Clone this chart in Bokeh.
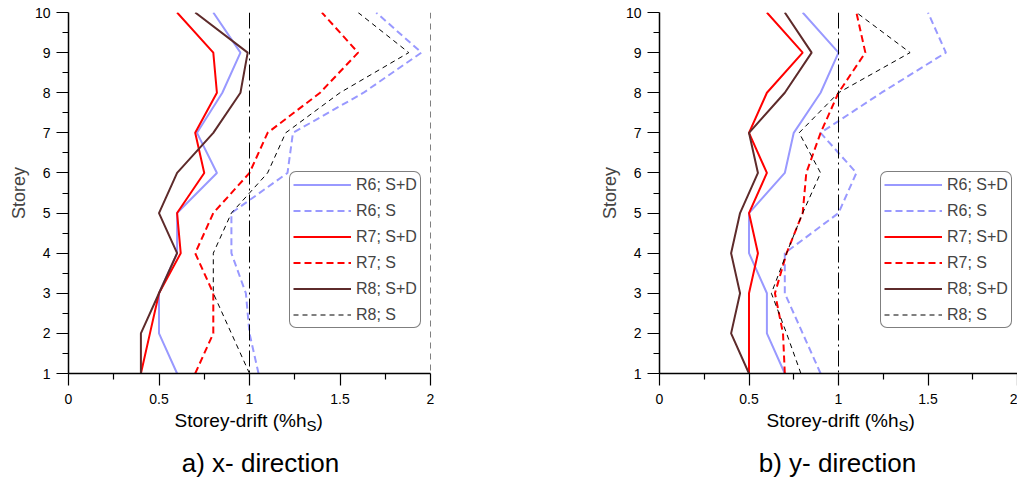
from bokeh.plotting import figure
from bokeh.models import Range1d, Span, Legend, LegendItem, Label, FixedTicker
from bokeh.layouts import row, column
from bokeh.embed import file_html
from bokeh.resources import INLINE

storeys = [1, 2, 3, 4, 5, 6, 7, 8, 9, 10]
series_names = ["R6; S+D", "R6; S", "R7; S+D", "R7; S", "R8; S+D", "R8; S"]

# a) x- direction
x_R6_SD = [0.60, 0.50, 0.50, 0.60, 0.60, 0.82, 0.71, 0.85, 0.95, 0.80]
x_R6_S = [1.05, 1.00, 0.98, 0.90, 0.90, 1.21, 1.24, 1.63, 1.95, 1.70]
x_R7_SD = [0.40, 0.45, 0.50, 0.62, 0.60, 0.75, 0.70, 0.82, 0.80, 0.60]
x_R7_S = [0.70, 0.80, 0.80, 0.70, 0.80, 1.00, 1.10, 1.39, 1.60, 1.40]
x_R8_SD = [0.40, 0.40, 0.50, 0.60, 0.50, 0.60, 0.80, 0.95, 0.99, 0.70]
x_R8_S = [1.00, 0.90, 0.80, 0.80, 0.90, 1.10, 1.20, 1.50, 1.88, 1.60]

# b) y- direction
y_R6_SD = [0.70, 0.60, 0.60, 0.50, 0.50, 0.70, 0.75, 0.90, 1.00, 0.80]
y_R6_S = [0.90, 0.80, 0.70, 0.70, 1.00, 1.10, 0.90, 1.24, 1.60, 1.50]
y_R7_SD = [0.50, 0.50, 0.50, 0.55, 0.50, 0.60, 0.50, 0.60, 0.80, 0.60]
y_R7_S = [0.70, 0.69, 0.645, 0.71, 0.80, 0.82, 0.90, 1.00, 1.15, 1.10]
y_R8_SD = [0.50, 0.40, 0.45, 0.40, 0.45, 0.55, 0.50, 0.70, 0.85, 0.70]
y_R8_S = [0.79, 0.71, 0.625, 0.71, 0.80, 0.90, 0.78, 1.00, 1.40, 1.10]

x_tick_values = [0, 0.5, 1, 1.5, 2]
x_tick_labels = ["0", "0.5", "1", "1.5", "2"]
x_minor_values = [0.25, 0.75, 1.25, 1.75]
y_tick_values = [1, 2, 3, 4, 5, 6, 7, 8, 9, 10]
y_minor_values = [1.5, 2.5, 3.5, 4.5, 5.5, 6.5, 7.5, 8.5, 9.5]

x_label_main = "Storey-drift (%h"
x_label_sub = "S"
x_label_end = ")"
captions = ["a) x- direction", "b) y- direction"]

FONT = "Liberation Sans"
styles = [
    dict(line_color="#9999FF", line_width=2),
    dict(line_color="#9999FF", line_width=2, line_dash="7 4"),
    dict(line_color="#FF0000", line_width=2),
    dict(line_color="#FF0000", line_width=2, line_dash="7 4"),
    dict(line_color="#5E2B2B", line_width=2),
    dict(line_color="#000000", line_width=1, line_dash="5 4"),
]

CAP_H = 67


def make_panel(series, b_left, f_width, b_right, x2_line):
    p = figure(frame_width=f_width, frame_height=361,
               min_border_left=b_left, min_border_right=b_right,
               min_border_top=12, min_border_bottom=37,
               x_range=Range1d(0, 2), y_range=Range1d(1, 10),
               output_backend="svg", toolbar_location=None,
               background_fill_color="white", border_fill_color="white")
    p.outline_line_color = None
    p.grid.visible = False

    p.add_layout(Span(location=1, dimension="height", line_color="black",
                      line_width=1, line_dash="16 4 2 4"))
    if x2_line:
        p.add_layout(Span(location=2, dimension="height", line_color="black",
                          line_width=1, line_dash="6 5"))

    items = []
    for name, vals, st in zip(series_names, series, styles):
        r = p.line(vals, storeys, **st)
        items.append(LegendItem(label=name, renderers=[r]))

    legend = Legend(items=items, location=(221, 45), margin=0, padding=3,
                    spacing=7, label_height=19, glyph_height=19, glyph_width=58,
                    label_standoff=5, label_text_font=FONT,
                    label_text_font_size="16px", border_line_color="black",
                    border_line_width=1, background_fill_color="white",
                    background_fill_alpha=1)
    if "border_radius" in Legend.properties():
        legend.border_radius = 7
    p.add_layout(legend)

    for ax in (p.xaxis[0], p.yaxis[0]):
        ax.axis_line_width = 1.5
        ax.axis_line_color = "black"
        ax.major_tick_line_color = "black"
        ax.minor_tick_line_color = "black"
        ax.major_tick_line_width = 1.2
        ax.minor_tick_line_width = 1.2
        ax.major_tick_in = 0
        ax.major_tick_out = 12
        ax.minor_tick_in = 0
        ax.minor_tick_out = 6
        ax.major_label_text_font = FONT
        ax.major_label_text_font_size = "14px"
        ax.major_label_text_color = "black"

    p.xaxis[0].ticker = FixedTicker(ticks=x_tick_values, minor_ticks=x_minor_values)
    p.xaxis[0].major_label_overrides = dict(zip(x_tick_values, x_tick_labels))
    p.xaxis[0].major_label_standoff = 8

    p.yaxis[0].ticker = FixedTicker(ticks=y_tick_values, minor_ticks=y_minor_values)
    p.yaxis[0].major_label_standoff = 6
    p.yaxis[0].axis_label = "Storey"
    p.yaxis[0].axis_label_text_font = FONT
    p.yaxis[0].axis_label_text_font_size = "18px"
    p.yaxis[0].axis_label_text_font_style = "normal"
    p.yaxis[0].axis_label_standoff = 3
    return p


def make_caption(total_w, caption, anchor_x, cap_x):
    c = figure(width=total_w, height=CAP_H, x_range=Range1d(0, total_w),
               y_range=Range1d(0, CAP_H), min_border=0,
               x_axis_location=None, y_axis_location=None,
               output_backend="svg", toolbar_location=None,
               background_fill_color="white", border_fill_color="white")
    c.outline_line_color = None
    c.grid.visible = False
    c.add_layout(Label(x=anchor_x, y=57, x_units="screen", y_units="screen",
                       text=x_label_main, text_align="right",
                       text_baseline="alphabetic", text_font=FONT,
                       text_font_size="19px", text_color="black"))
    c.add_layout(Label(x=anchor_x, y=52, x_units="screen", y_units="screen",
                       text=x_label_sub, text_align="left",
                       text_baseline="alphabetic", text_font=FONT,
                       text_font_size="15px", text_color="black"))
    c.add_layout(Label(x=anchor_x + 10, y=57, x_units="screen", y_units="screen",
                       text=x_label_end, text_align="left",
                       text_baseline="alphabetic", text_font=FONT,
                       text_font_size="19px", text_color="black"))
    c.add_layout(Label(x=cap_x, y=15, x_units="screen", y_units="screen",
                       text=caption, text_align="center",
                       text_baseline="alphabetic", text_font=FONT,
                       text_font_size="26px", text_color="black"))
    return c


p1 = make_panel([x_R6_SD, x_R6_S, x_R7_SD, x_R7_S, x_R8_SD, x_R8_S],
                68, 362, 160, True)
p2 = make_panel([y_R6_SD, y_R6_S, y_R7_SD, y_R7_S, y_R8_SD, y_R8_S],
                69, 358, 0, False)
c1 = make_caption(590, captions[0], 238, 192)
c2 = make_caption(427, captions[1], 239, 178)

layout = row(column(p1, c1), column(p2, c2))
open("out.html", "w").write(file_html(layout, INLINE))
